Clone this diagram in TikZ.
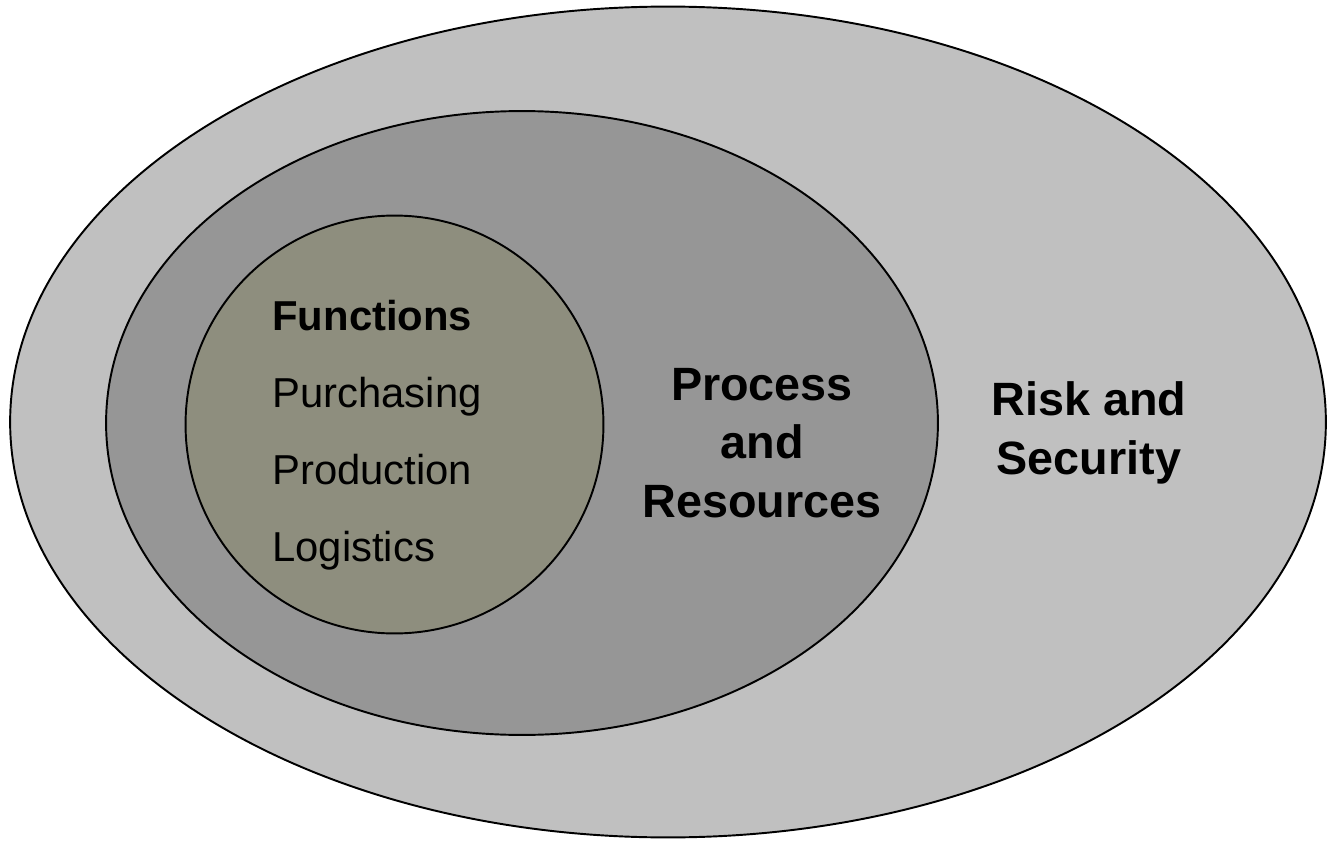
\documentclass[tikz,border=0pt]{standalone}
\usepackage{fontspec}
\setmainfont{Liberation Sans}
\usepackage{tikz}
\usetikzlibrary{shapes.geometric}
\definecolor{riskgray}{HTML}{C0C0C0}
\definecolor{procgray}{HTML}{969696}
\definecolor{funcolive}{HTML}{8E8E7E}
\tikzset{
    zone/.style = {draw, ellipse, line width=1.1pt, inner sep=0pt},
    item/.style = {anchor=base west, inner sep=0pt,
        font=\fontsize{23.8}{28}\selectfont},
    head/.style = {anchor=base, inner sep=0pt, align=center,
        font=\fontsize{26.6}{33.2}\selectfont\bfseries}
}
\begin{document}
\begin{tikzpicture}[x=0.02cm, y=-0.02cm]
    \useasboundingbox (0,0) rectangle (1328,841);
    \node [zone, fill=riskgray, minimum width=26.32cm, minimum height=16.62cm] (risk) at (668,422) {};
    \node [zone, fill=procgray, minimum width=16.64cm, minimum height=12.48cm] (proc) at (522,423) {};
    \node [zone, circle, fill=funcolive, minimum size=8.36cm] (func) at (394.5,424.5) {};

    \node [item, font=\fontsize{23.8}{28}\selectfont\bfseries] (functions) at (272,330) {Functions};
    \node [item] (purchasing) at (272,407) {Purchasing};
    \node [item] (production) at (272,484) {Production};
    \node [item] (logistics) at (272,561) {Logistics};

    \node [head] (proclabel) at (762,517) {Process\\and\\Resources};
    \node [head] (risklabel) at (1089,474) {Risk and\\Security};
\end{tikzpicture}
\end{document}
